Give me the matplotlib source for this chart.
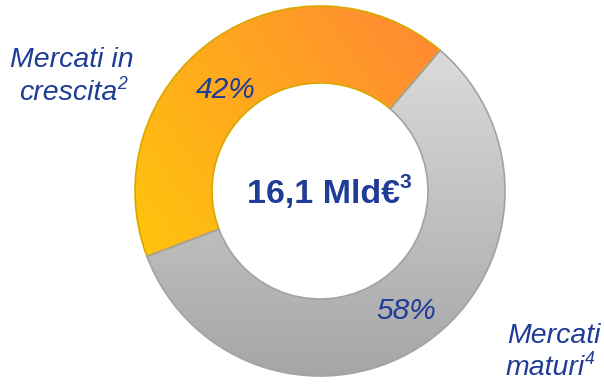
import numpy as np
import matplotlib
matplotlib.use("Agg")
import matplotlib.pyplot as plt
from matplotlib.colors import LinearSegmentedColormap

# ---- data ----
categories = ["Mercati in crescita", "Mercati maturi"]
sup_marks = ["2", "4"]
shares = [42, 58]
pct_labels = ["42%", "58%"]
total_label = "16,1 Mld€"
total_sup = "3"

BLUE = "#1F3C96"
FONT = "Liberation Sans"

fig = plt.figure(figsize=(6.04, 3.85), dpi=100)
ax = fig.add_axes([0, 0, 1, 1])

cx, cy, R, W = 320, 194, 185, 77
wedges, _ = ax.pie(shares, startangle=49.5, counterclock=True, radius=R,
                   center=(cx, cy), colors=["#FFA020", "#C0C0C0"],
                   wedgeprops=dict(width=W, linewidth=1.2))
wedges[0].set_edgecolor("#D9A800")
wedges[1].set_edgecolor("#A2A2A2")
ax.set_xlim(0, 604)
ax.set_ylim(0, 385)
ax.set_aspect("auto")
ax.axis("off")

# gradient fills clipped to wedges
xs = np.linspace(cx - R, cx + R, 400)
ys = np.linspace(cy - R, cy + R, 400)
X, Y = np.meshgrid(xs, ys)
ext = [cx - R, cx + R, cy - R, cy + R]

A = np.array([150.0, 135.0]); B = np.array([445.0, 340.0])
d = B - A
t = ((X - A[0]) * d[0] + (Y - A[1]) * d[1]) / (d @ d)
t = np.clip(t, 0, 1)
cmap_o = LinearSegmentedColormap.from_list("o", ["#FFC20E", "#FF8A32"])
im = ax.imshow(t, extent=ext, origin="lower", cmap=cmap_o, vmin=0, vmax=1,
               zorder=1, interpolation="bilinear")
im.set_clip_path(wedges[0])

tg = np.clip((Y - (cy - R)) / (2 * R), 0, 1)
cmap_g = LinearSegmentedColormap.from_list("g", ["#A6A6A6", "#C4C4C4", "#E2E2E2"])
im2 = ax.imshow(tg, extent=ext, origin="lower", cmap=cmap_g, vmin=0, vmax=1,
                zorder=1, interpolation="bilinear")
im2.set_clip_path(wedges[1])
for w in wedges:
    w.set_facecolor("none")
    w.set_zorder(2)

fig.canvas.draw()
renderer = fig.canvas.get_renderer()


def text_sup(x, y, base, sup, size, weight="normal", style="italic", sup_scale=0.62,
             ha="center", rise=0.38):
    t1 = ax.text(0, y, base, fontsize=size, fontweight=weight, fontstyle=style,
                 family=FONT, color=BLUE, ha="left", va="baseline", zorder=5)
    t2 = ax.text(0, y + size * rise * 100 / 72, sup, fontsize=size * sup_scale,
                 fontweight=weight, fontstyle=style, family=FONT, color=BLUE,
                 ha="left", va="baseline", zorder=5)
    w1 = t1.get_window_extent(renderer).width
    w2 = t2.get_window_extent(renderer).width if sup else 0
    tot = w1 + w2
    x0 = x - tot / 2 if ha == "center" else x
    t1.set_x(x0)
    t2.set_x(x0 + w1)


# category labels
text_sup(72, 385 - 67, "Mercati in", "", 20.5)
text_sup(73, 385 - 100, "crescita", sup_marks[0], 20.5)
text_sup(554, 385 - 343, "Mercati", "", 20.5)
text_sup(550, 385 - 375, "maturi", sup_marks[1], 20.5)

# percentages
ax.text(226, 385 - 90, pct_labels[0], fontsize=21.5, fontstyle="italic", family=FONT,
        color=BLUE, ha="center", va="center", zorder=5)
ax.text(406, 385 - 311, pct_labels[1], fontsize=21.5, fontstyle="italic", family=FONT,
        color=BLUE, ha="center", va="center", zorder=5)

# center total
text_sup(329, 385 - 203, total_label, total_sup, 24.5, weight="bold", style="normal",
         sup_scale=0.62, rise=0.45)

fig.savefig("out.png", dpi=100)
